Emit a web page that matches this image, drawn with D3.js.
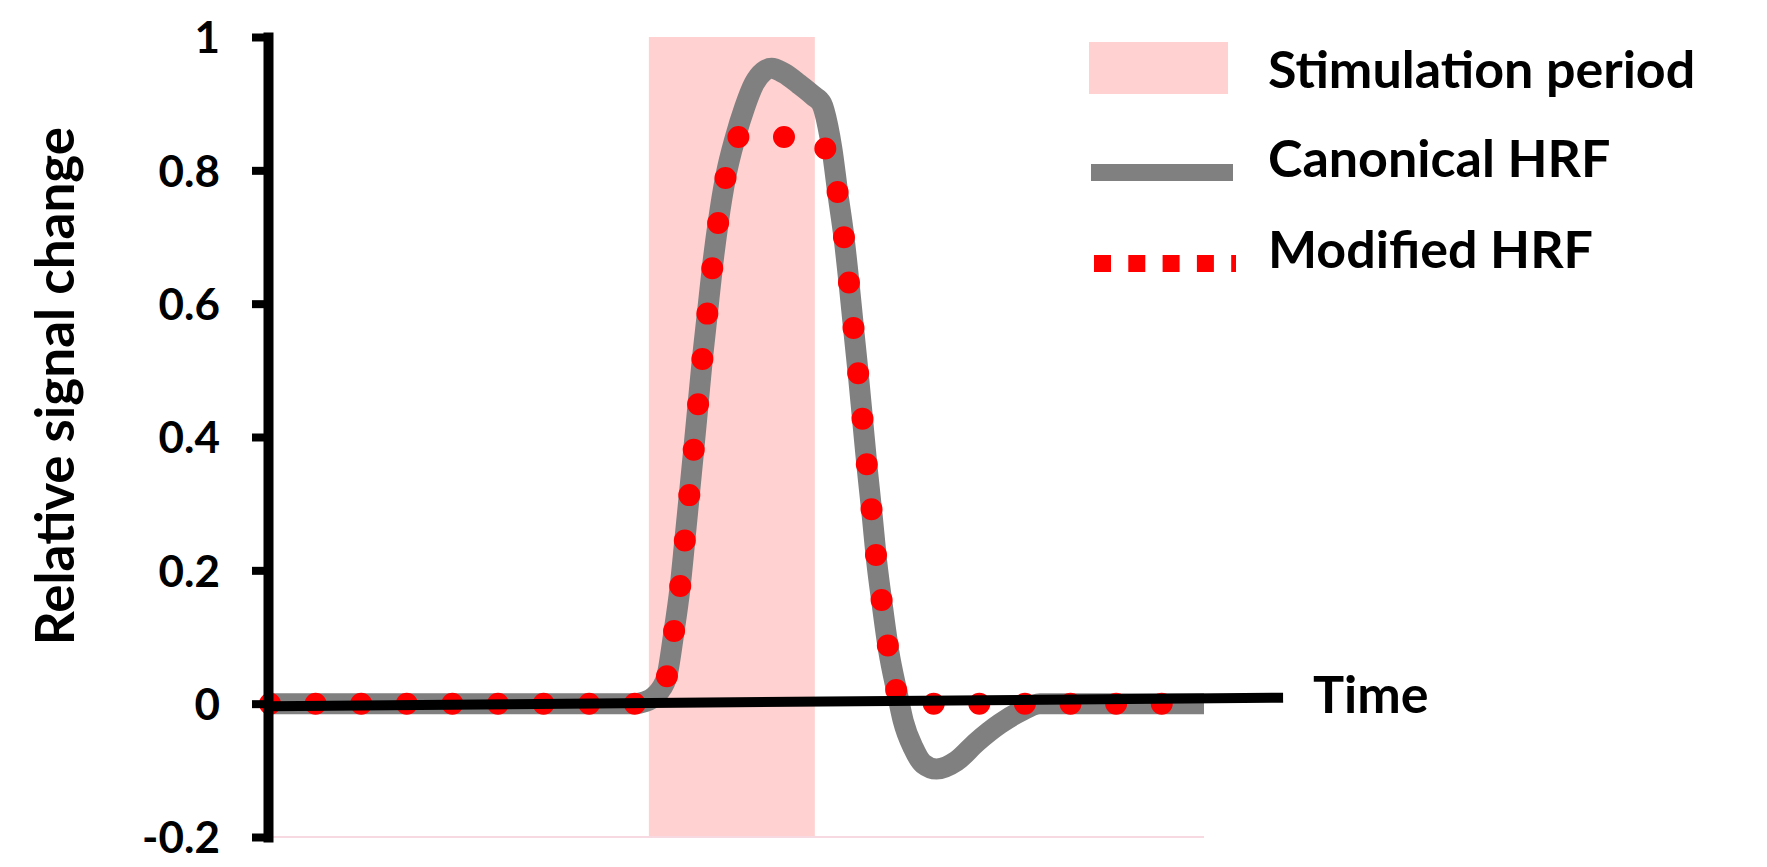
<!DOCTYPE html>
<meta charset="utf-8">
<script src="https://d3js.org/d3.v7.min.js"></script>
<style>
  body { margin: 0; background: #fff; }
  text { font-family: Lato, "Open Sans", sans-serif; font-weight: bold; fill: #000; }
</style>
<div id="chart"></div>
<script>

// values (time in arbitrary seconds, relative signal change)
var canonTime  = [0, 11.7, 12.05, 12.37, 12.73, 12.97, 13.17, 13.32, 13.47, 13.61,
                  13.75, 13.89, 14.05, 14.21, 14.40, 14.64, 14.95, 15.25, 15.55, 15.85,
                  16.11, 16.5, 17.0, 17.45, 17.72, 17.92, 18.05, 18.24, 18.44, 18.60,
                  18.75, 18.90, 19.04, 19.18, 19.34, 19.49, 19.66, 19.87, 20.15, 20.34,
                  20.66, 20.98, 21.41, 22.05, 22.69, 23.45, 24.09, 24.73, 30];
var canonValue = [0, 0, 0.003, 0.012, 0.038, 0.106, 0.174, 0.243, 0.314, 0.381,
                  0.449, 0.518, 0.586, 0.655, 0.723, 0.791, 0.850, 0.895, 0.930, 0.948,
                  0.953, 0.946, 0.929, 0.912, 0.900, 0.866, 0.832, 0.765, 0.698, 0.630,
                  0.560, 0.492, 0.423, 0.354, 0.283, 0.212, 0.150, 0.080, 0.015, -0.026,
                  -0.066, -0.090, -0.098, -0.086, -0.058, -0.030, -0.012, 0, 0];

var modTime  = [0, 11.7, 12.05, 12.37, 12.73, 12.97, 13.17, 13.32, 13.47, 13.61,
                13.75, 13.89, 14.05, 14.21, 14.40, 14.64, 14.95, 17.3, 17.85, 18.24,
                18.44, 18.60, 18.75, 18.90, 19.04, 19.18, 19.34, 19.49, 19.66, 19.87,
                20.15, 20.40, 30];
var modValue = [0, 0, 0.003, 0.012, 0.038, 0.106, 0.174, 0.243, 0.314, 0.381,
                0.449, 0.518, 0.586, 0.655, 0.723, 0.791, 0.850, 0.850, 0.832, 0.765,
                0.698, 0.630, 0.560, 0.492, 0.423, 0.354, 0.283, 0.212, 0.150, 0.080,
                0.015, 0, 0];

var stimPeriod = [12.17, 17.5];
var yTicks = [-0.2, 0, 0.2, 0.4, 0.6, 0.8, 1];
// the hand drawn time arrow runs a little uphill
var timeLineTime = [0, 32.54];
var timeLineValue = [-0.004, 0.009];
var legendLabels = ["Stimulation period", "Canonical HRF", "Modified HRF"];

var width = 1767, height = 867;

var svg = d3.select("#chart")
  .append("svg")
    .attr("width", width)
    .attr("height", height);

var x = d3.scaleLinear().domain([0, 30]).range([270, 1204]);
var y = d3.scaleLinear().domain([-0.2, 1]).range([837, 37]);

// stimulation band
svg.append("rect")
  .attr("x", x(stimPeriod[0]))
  .attr("y", y(1))
  .attr("width", x(stimPeriod[1]) - x(stimPeriod[0]))
  .attr("height", y(-0.2) - y(1))
  .attr("fill", "#ffd1d1");

// faint plot area bottom
svg.append("line")
  .attr("x1", x(0)).attr("x2", x(30))
  .attr("y1", y(-0.2)).attr("y2", y(-0.2))
  .attr("stroke", "#f6d9e1")
  .attr("stroke-width", 2);

var line = d3.line()
  .x(function(d) { return x(d[0]) })
  .y(function(d) { return y(d[1]) })
  .curve(d3.curveMonotoneX);

// canonical HRF
svg.append("path")
  .datum(d3.zip(canonTime, canonValue))
  .attr("d", line)
  .attr("fill", "none")
  .attr("stroke", "#808080")
  .attr("stroke-width", 21)
  .attr("stroke-linejoin", "round");

// modified HRF, round dots
svg.append("path")
  .datum(d3.zip(modTime, modValue))
  .attr("d", line)
  .attr("fill", "none")
  .attr("stroke", "#ff0000")
  .attr("stroke-width", 22)
  .attr("stroke-linecap", "round")
  .attr("stroke-dasharray", "0 45.6");

// time arrow line
svg.append("line")
  .attr("x1", x(timeLineTime[0])).attr("y1", y(timeLineValue[0]))
  .attr("x2", x(timeLineTime[1])).attr("y2", y(timeLineValue[1]))
  .attr("stroke", "#000")
  .attr("stroke-width", 10);

svg.append("text")
  .attr("x", 1313)
  .attr("y", 713)
  .attr("font-size", 52)
  .text("Time");

// y axis
var yAxis = svg.append("g")
  .attr("transform", "translate(268,0)")
  .call(d3.axisLeft(y)
    .tickValues(yTicks)
    .tickSize(16)
    .tickSizeOuter(0)
    .tickPadding(32)
    .tickFormat(function(d) { return String(d) }));

yAxis.select(".domain")
  .attr("stroke", "#000")
  .attr("stroke-width", 10)
  .attr("stroke-linecap", "square");
yAxis.selectAll(".tick line")
  .attr("stroke", "#000")
  .attr("stroke-width", 8);
yAxis.selectAll(".tick text")
  .attr("font-size", 44)
  .attr("font-family", "Lato, 'Open Sans', sans-serif")
  .attr("dy", "0.36em");

svg.append("text")
  .attr("transform", "translate(74,386) rotate(-90)")
  .attr("text-anchor", "middle")
  .attr("font-size", 53)
  .text("Relative signal change");

// legend
svg.append("rect")
  .attr("x", 1089).attr("y", 42)
  .attr("width", 139).attr("height", 52)
  .attr("fill", "#ffd1d1");
svg.append("line")
  .attr("x1", 1091).attr("x2", 1233)
  .attr("y1", 172.5).attr("y2", 172.5)
  .attr("stroke", "#808080")
  .attr("stroke-width", 17);
svg.append("line")
  .attr("x1", 1094).attr("x2", 1236)
  .attr("y1", 263.5).attr("y2", 263.5)
  .attr("stroke", "#ff0000")
  .attr("stroke-width", 17)
  .attr("stroke-dasharray", "17 17.3");

svg.selectAll(".legend-label")
  .data(legendLabels)
  .enter()
  .append("text")
    .attr("class", "legend-label")
    .attr("x", 1268)
    .attr("y", function(d, i) { return [88, 177, 268][i] })
    .attr("font-size", 52)
    .text(function(d) { return d });

</script>
